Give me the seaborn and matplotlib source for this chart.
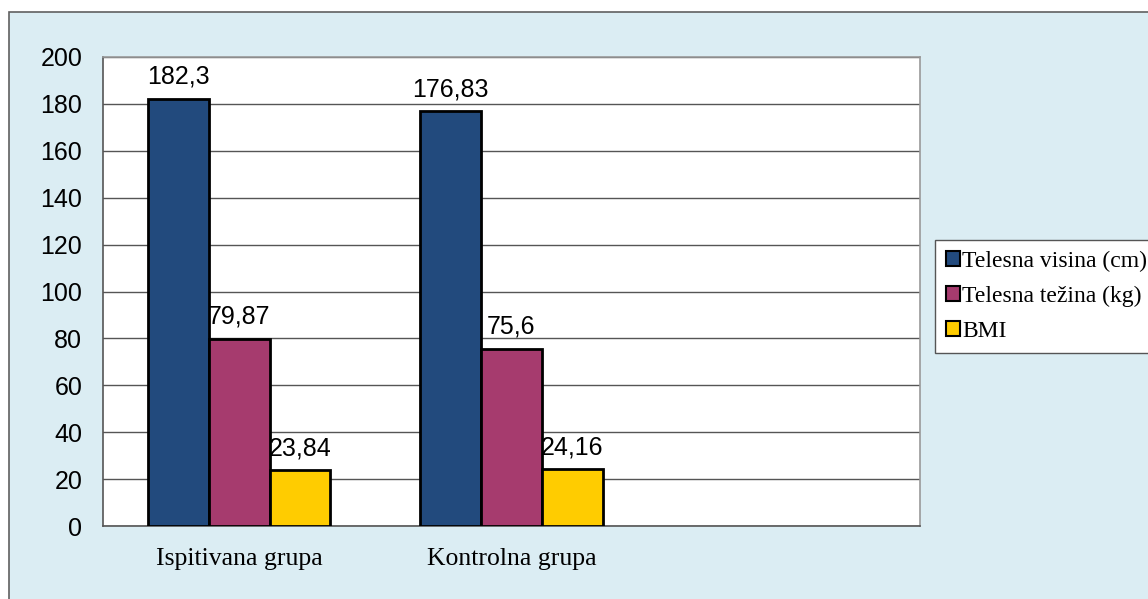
import pandas as pd
import matplotlib.pyplot as plt
import matplotlib.patches as mpatches
import seaborn as sns

groups = ["Ispitivana grupa", "Kontrolna grupa"]
series = ["Telesna visina (cm)", "Telesna težina (kg)", "BMI"]
visina = [182.3, 176.83]
tezina = [79.87, 75.6]
bmi = [23.84, 24.16]
colors = ["#224A7D", "#A63B6E", "#FFCC00"]
y_ticks = [0, 20, 40, 60, 80, 100, 120, 140, 160, 180, 200]

rows = []
for name, vals in zip(series, [visina, tezina, bmi]):
    for g, v in zip(groups, vals):
        rows.append({"grupa": g, "serija": name, "vrednost": v})
df = pd.DataFrame(rows)

sns.set_style("white")
plt.rcParams["font.family"] = ["Liberation Sans", "DejaVu Sans"]
plt.rcParams["text.color"] = "black"
plt.rcParams["xtick.labelcolor"] = "black"
plt.rcParams["ytick.labelcolor"] = "black"

fig = plt.figure(figsize=(11.48, 5.99), dpi=100)
fig.patch.set_facecolor("white")
# outer chart area (light blue with border, cut off on right/bottom)
bg = mpatches.Rectangle((9 / 1148, -0.05), 1.1, 1 - 12 / 599 + 0.05,
                        transform=fig.transFigure, facecolor="#DBEDF3",
                        edgecolor="#606060", linewidth=1.2, zorder=-10)
fig.patches.append(bg)

ax = fig.add_axes([103 / 1148, 1 - 526 / 599, (920 - 103) / 1148, (526 - 57) / 599])
ax.set_facecolor("white")

sns.barplot(data=df, x="grupa", y="vrednost", hue="serija",
            order=groups + [""], hue_order=series, palette=colors,
            width=0.67, edgecolor="black", linewidth=2, saturation=1,
            ax=ax, zorder=3)

for cont in ax.containers:
    labels = [f"{v:g}".replace(".", ",") for v in cont.datavalues]
    ax.bar_label(cont, labels=labels, padding=7, fontsize=18, color="black")

ax.set_ylim(0, 200)
ax.set_xlim(-0.5, 2.5)
ax.set_yticks(y_ticks)
ax.yaxis.grid(True, color="#555555", linewidth=1)
ax.set_axisbelow(True)
ax.set_xticks([0, 1, 2])
ax.set_xticklabels(groups + [""], family=["Liberation Serif"], fontsize=18.5, color="black")
ax.set_xticks([-0.5, 0.5, 1.5, 2.5], minor=True)
ax.tick_params(axis="x", which="major", length=0, pad=16)
ax.tick_params(axis="x", which="minor", length=6, color="#555555", width=1)
ax.tick_params(axis="y", length=7, color="#555555", width=1, labelsize=18, pad=8,
               labelcolor="black")
ax.set_xlabel("")
ax.set_ylabel("")
for side in ["left", "bottom"]:
    ax.spines[side].set_color("#555555")
    ax.spines[side].set_linewidth(1.2)
for side in ["top", "right"]:
    ax.spines[side].set_color("#999999")
    ax.spines[side].set_linewidth(1.2)

ax.legend_.remove()
handles = [mpatches.Patch(facecolor=c, edgecolor="black", linewidth=1.5) for c in colors]
leg = fig.legend(handles, series, loc="upper left",
                 bbox_to_anchor=(935 / 1148, 1 - 240 / 599),
                 prop={"family": "Liberation Serif", "size": 17},
                 frameon=True, fancybox=False, framealpha=1,
                 handlelength=0.6, handleheight=0.6,
                 handletextpad=0.1, borderpad=0.45, labelspacing=0.6, borderaxespad=0)
for t in leg.get_texts():
    t.set_color("black")
leg.get_frame().set_edgecolor("#555555")
leg.get_frame().set_linewidth(1)
leg.get_frame().set_facecolor("white")

fig.savefig("out.png", dpi=100)
